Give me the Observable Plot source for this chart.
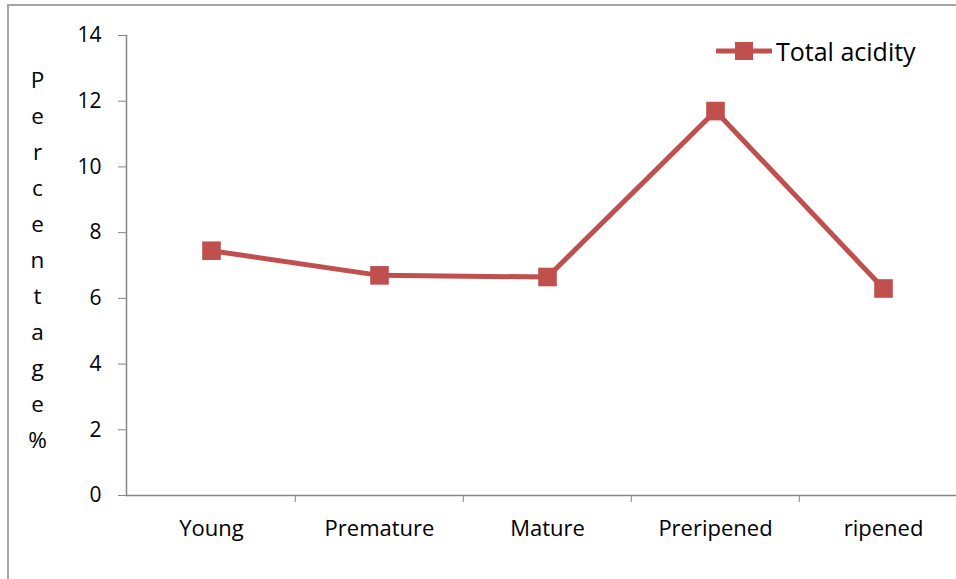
<!DOCTYPE html>
<html>
<head>
<meta charset="utf-8">
<script src="https://cdn.jsdelivr.net/npm/d3@7"></script>
<script src="https://cdn.jsdelivr.net/npm/@observablehq/plot@0.6"></script>
<style>
  html, body { margin: 0; padding: 0; background: #fff; overflow: hidden; }
  #wrap { position: relative; width: 956px; height: 579px; overflow: hidden; }
  #border { position: absolute; left: 7px; top: 4px; width: 1000px; height: 640px;
            border: 2px solid #a6a6a6; box-sizing: border-box; }
  #chart { position: absolute; left: 0; top: 0; }
  #legend { position: absolute; left: 716px; top: 34px; display: flex; align-items: center;
            font-family: "Open Sans", sans-serif; font-size: 25px; color: #000; }
  #legend svg { margin-right: 4px; }
</style>
</head>
<body>
<div id="wrap">
  <div id="border"></div>
  <div id="chart"></div>
  <div id="legend"></div>
</div>
<script>
// Total acidity across fruit development stages
const stages = ["Young", "Premature", "Mature", "Preripened", "ripened"];
const acidity = [7.45, 6.7, 6.65, 11.7, 6.3];
const yTicks = [0, 2, 4, 6, 8, 10, 12, 14];
const seriesName = "Total acidity";
const yLabel = "Percentage%";

const color = "#C0504D";
const axisColor = "#868686";
const data = stages.map((s, i) => ({stage: s, value: acidity[i]}));

const xRange = [126, 968];
const step = (xRange[1] - xRange[0]) / stages.length;

const plot = Plot.plot({
  width: 956,
  height: 579,
  marginLeft: 126,
  marginRight: 0,
  marginTop: 35,
  marginBottom: 84,
  style: {fontFamily: "Open Sans, sans-serif", fontSize: "22px", color: "#000", background: "transparent", overflow: "hidden"},
  x: {type: "point", domain: stages, range: xRange, padding: 0.5},
  y: {domain: [0, 14]},
  marks: [
    Plot.axisY({ticks: yTicks, tickSize: 8, tickPadding: 17, stroke: axisColor, label: null, color: "#000", fontSize: 21}),
    Plot.axisX({tickSize: 0, tickPadding: 25, label: null}),
    // category boundary ticks sit half a step left of each category centre
    Plot.axisX(stages.slice(1), {tickSize: 7, tickFormat: null, dx: -step / 2, stroke: axisColor, label: null}),
    Plot.frame({anchor: "left", stroke: axisColor, strokeWidth: 1.5}),
    Plot.ruleY([0], {stroke: axisColor, strokeWidth: 1.5}),
    Plot.text([yLabel.split("").join("\n")], {
      frameAnchor: "left", dx: -89, dy: -9, text: d => d, lineHeight: 1.6,
      fontSize: 22.5, fill: "#000", textAnchor: "middle"
    }),
    Plot.line(data, {x: "stage", y: "value", stroke: color, strokeWidth: 5}),
    Plot.dot(data, {x: "stage", y: "value", symbol: "square", r: 10.5, fill: color, stroke: "none"})
  ]
});
document.getElementById("chart").appendChild(plot);

// Legend swatch: line with square marker
const legend = document.getElementById("legend");
const sw = d3.create("svg").attr("width", 56).attr("height", 20);
sw.append("line").attr("x1", 1).attr("x2", 55).attr("y1", 10).attr("y2", 10)
  .attr("stroke", color).attr("stroke-width", 5).attr("stroke-linecap", "round");
sw.append("rect").attr("x", 19).attr("y", 1).attr("width", 18).attr("height", 18).attr("fill", color);
legend.appendChild(sw.node());
const lt = document.createElement("span");
lt.textContent = seriesName;
legend.appendChild(lt);
</script>
</body>
</html>
